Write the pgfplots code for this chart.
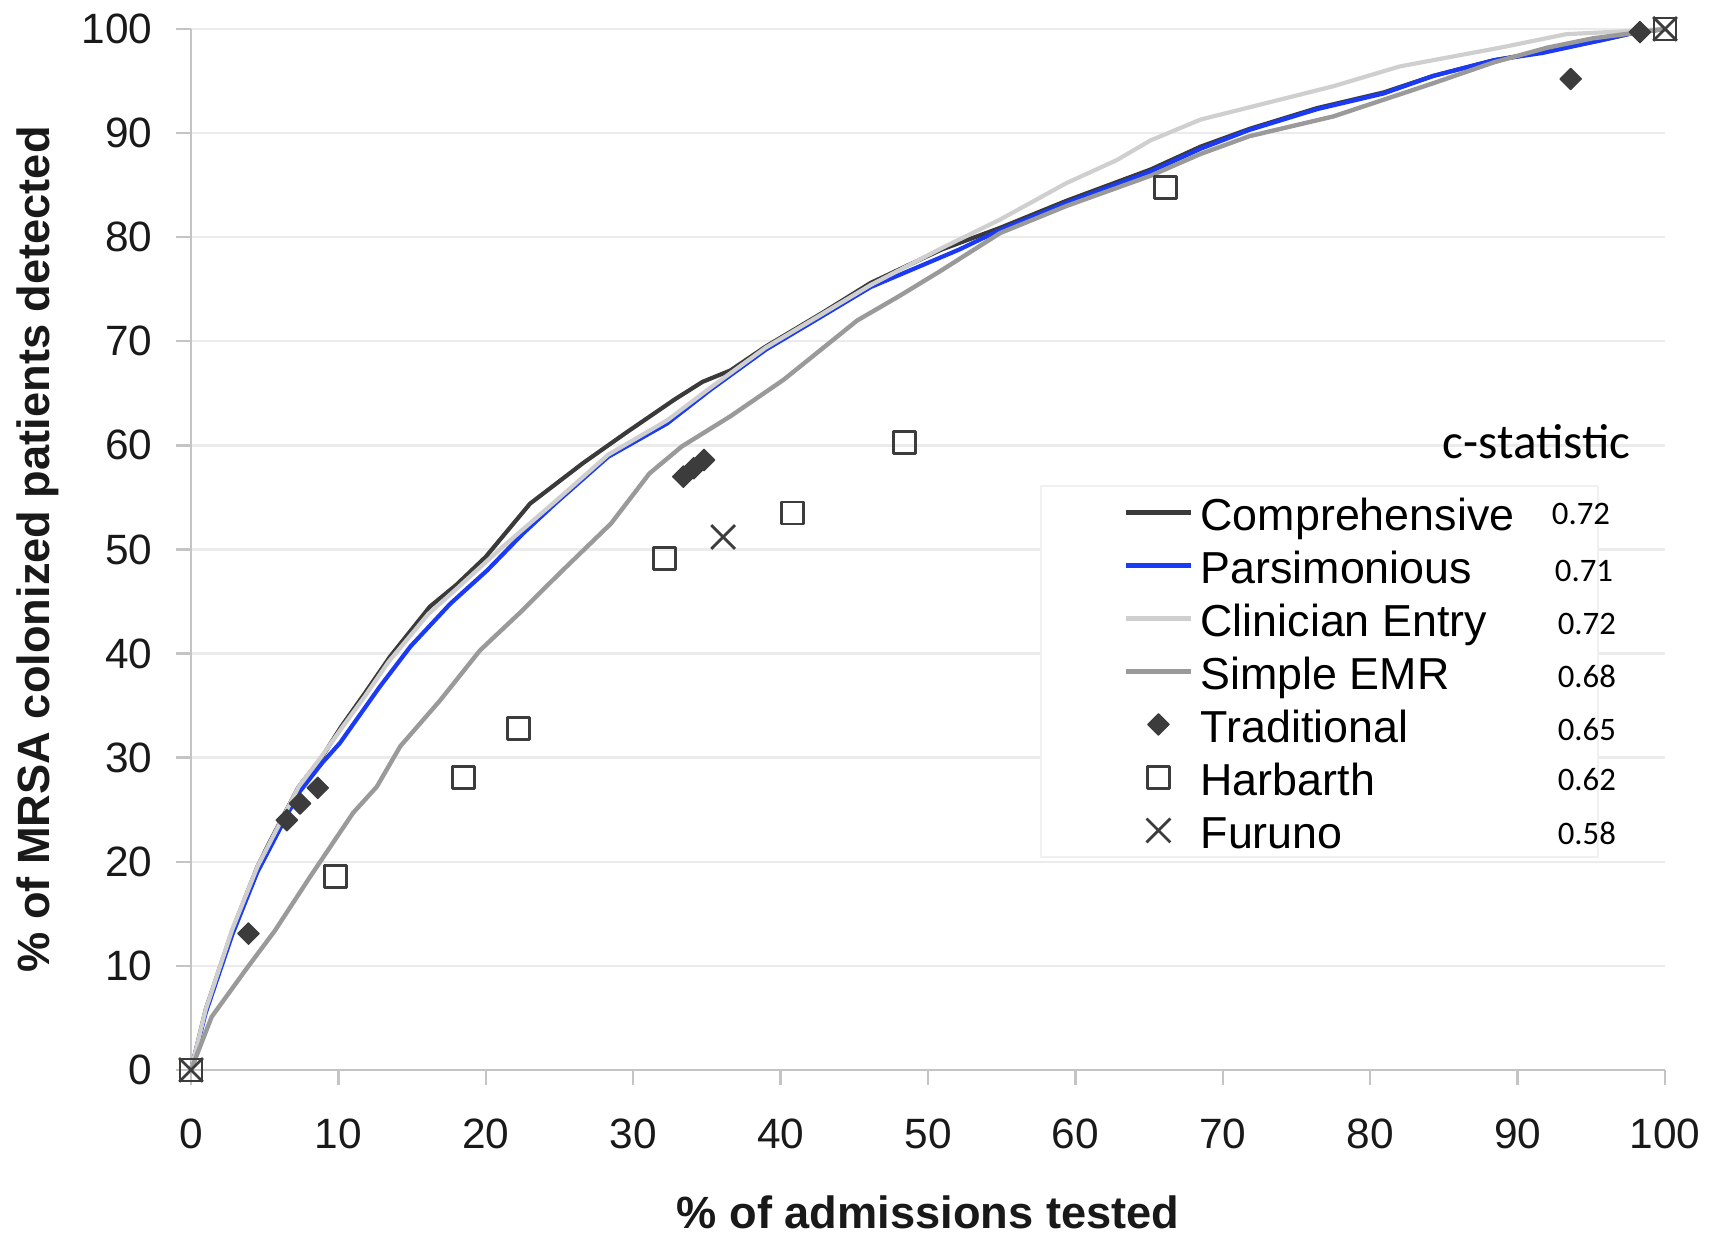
\documentclass[border=0pt]{standalone}
\usepackage{fontspec}
\setmainfont{Liberation Sans}
\newfontfamily\carlito{Carlito}
\usepackage{pgfplots}
\pgfplotsset{compat=1.18}

\definecolor{compcol}{HTML}{3A3A3A}
\definecolor{parscol}{HTML}{1A3AF5}
\definecolor{clincol}{HTML}{CFCFCF}
\definecolor{simpcol}{HTML}{9A9A9A}
\definecolor{markcol}{HTML}{3C3C3C}
\definecolor{axisgray}{HTML}{C4C4C4}
\definecolor{gridgray}{HTML}{EBEBEB}

\pgfplotsset{
  lineleg/.style={legend image code/.code={\path (0pt,0pt) (17.95pt,0pt); \draw[##1] (1.65pt,0pt) -- (17.95pt,0pt);}},
  markleg/.style={legend image code/.code={\path (0pt,0pt) (17.95pt,0pt); \draw[##1,mark repeat=2,mark phase=2] plot coordinates {(1.65pt,0pt) (9.8pt,0pt) (17.95pt,0pt)};}},
}

\begin{document}
\begin{tikzpicture}
\begin{axis}[
  at={(0pt,0pt)}, anchor=south west,
  scale only axis, width=368.5pt, height=260.25pt,
  xmin=0, xmax=100, ymin=0, ymax=100,
  clip=false,
  axis lines*=left,
  axis line style={draw=axisgray, line width=0.6pt},
  xtick={0,10,...,100}, ytick={0,10,...,100},
  tick align=outside, major tick length=3.75pt,
  tick style={draw=axisgray, line width=0.6pt},
  ymajorgrids, grid style={draw=gridgray, line width=0.6pt},
  /pgf/number format/assume math mode=true,
  tick label style={font=\fontsize{10.6}{12}\selectfont, text=black!90},
  xticklabel style={yshift=-5pt},
  yticklabel style={xshift=-2.4pt},
  xlabel={\% of admissions tested},
  ylabel={\% of MRSA colonized patients detected},
  label style={font=\bfseries\fontsize{11.3}{13}\selectfont, text=black!90},
  xlabel style={at={(rel axis cs:0.5,-0.1364)}, anchor=center},
  ylabel style={at={(rel axis cs:-0.1038,0.5)}, anchor=center},
  legend cell align=left,
  legend style={at={(rel axis cs:0.5760,0.5620)}, anchor=north west,
    draw=gray!12, fill=white, line width=0.5pt,
    inner xsep=19pt, inner ysep=0pt, row sep=0pt,
    font=\fontsize{11.2}{13}\selectfont,
    nodes={inner xsep=1.85pt, inner ysep=0.85pt, text height=10.4pt, text depth=1.15pt}},
  line join=round,
]
% Comprehensive
\addplot[compcol, line width=1.05pt, lineleg] coordinates {
(0,0) (1,5.8) (2.8,13.4) (4.5,19.5) (5.3,21.8) (7.3,27.2) (8.9,30.1) (10.2,33.0)
(11.8,36.2) (13.5,39.7) (16.2,44.5) (18,46.6) (20,49.3) (23,54.4) (26.6,58.3)
(29.5,61.2) (32.8,64.4) (34.7,66.1) (36.6,67.2) (39,69.5) (42.8,72.7) (46.1,75.6)
(50.9,78.8) (54.9,80.9) (59.4,83.5) (65.1,86.5) (68.5,88.7) (71.8,90.4) (76.4,92.4)
(80.9,93.9) (84.3,95.5) (88.4,97.0) (91.7,97.8) (95.6,98.9) (97.8,99.6) (100,100)};
\addlegendentry{Comprehensive}
% Parsimonious
\addplot[parscol, line width=1.05pt, lineleg] coordinates {
(0,0) (1,5.5) (2.8,13) (4.5,19) (7.3,26.6) (8.9,29.5) (10.1,31.4) (12.8,36.8)
(14.9,40.7) (17.6,44.8) (20.1,48.0) (22.5,51.5) (24.7,54.4) (28.3,58.9) (32.3,62.1)
(35.2,65.3) (39,69.2) (42.8,72.4) (46.1,75.2) (52.1,78.8) (54.9,80.7) (59.4,83.3)
(65.1,86.3) (68.5,88.5) (71.8,90.3) (76.4,92.3) (80.9,93.8) (84.3,95.5) (88.4,97.0)
(91.7,97.7) (95.6,98.9) (97.8,99.6) (100,100)};
\addlegendentry{Parsimonious}
% Clinician Entry
\addplot[clincol, line width=1.05pt, lineleg] coordinates {
(0,0) (1,5.8) (2.8,13.5) (4.5,19.5) (7.3,27.2) (8.9,30.2) (10.2,32.8) (11.8,35.9)
(13.4,39.2) (16.1,43.8) (18,46.2) (21.1,50.2) (24.7,54.6) (28.3,59.1) (32.3,62.4)
(35.2,65.5) (39,69.4) (42.8,72.6) (46.1,75.4) (51,79) (54.9,81.7) (59.4,85.2)
(62.8,87.4) (65.1,89.3) (68.5,91.3) (73,92.9) (77.5,94.5) (82,96.4) (88.8,98.2)
(93.3,99.5) (97.6,99.8) (100,100)};
\addlegendentry{Clinician Entry}
% Simple EMR
\addplot[simpcol, line width=1.1pt, lineleg] coordinates {
(0,0) (1.4,5.1) (3.7,9.6) (5.7,13.4) (8.1,18.6) (11,24.7) (12.6,27.2) (14.2,31.1)
(16.9,35.5) (19.6,40.3) (22.3,43.9) (25,47.7) (28.5,52.5) (31.1,57.3) (33.3,59.9)
(36.6,62.8) (40.2,66.3) (45.2,72.0) (48,74.3) (50.9,76.8) (54.9,80.4) (59.4,83.0)
(65.1,85.9) (68.5,88.0) (71.8,89.7) (77.5,91.6) (84.3,94.8) (88.4,96.8) (92,98.2)
(95.1,99.1) (100,100)};
\addlegendentry{Simple EMR}
% Traditional
\addplot[only marks, mark=square*, mark size=1.9pt, markleg,
  mark options={rotate=45, draw=markcol, fill=markcol, line width=0.3pt}] coordinates {
(3.9,13.1) (6.5,24.0) (7.4,25.6) (8.6,27.1) (33.4,57.0) (34.1,57.8) (34.8,58.6)
(93.6,95.2) (98.3,99.7)};
\addlegendentry{Traditional}
% Harbarth
\addplot[only marks, mark=square, mark size=2.75pt, markleg,
  mark options={draw=markcol, line width=0.7pt}] coordinates {
(0,0) (9.8,18.6) (18.5,28.1) (22.2,32.8) (32.1,49.1) (40.8,53.5) (48.4,60.3)
(66.1,84.8) (100,100)};
\addlegendentry{Harbarth}
% Furuno
\addplot[only marks, mark=x, mark size=4.2pt, markleg,
  mark options={draw=markcol, line width=0.7pt}] coordinates {
(0,0) (36.1,51.2) (100,100)};
\addlegendentry{Furuno}

\coordinate (cs) at (axis cs:91.3,58.7);
\coordinate (c1) at (axis cs:94.3,53.4);
\coordinate (c2) at (axis cs:94.5,47.9);
\coordinate (c3) at (axis cs:94.7,42.8);
\coordinate (c4) at (axis cs:94.7,37.8);
\coordinate (c5) at (axis cs:94.7,32.7);
\coordinate (c6) at (axis cs:94.7,27.9);
\coordinate (c7) at (axis cs:94.7,22.7);
\end{axis}
\begin{scope}[every node/.style={font=\carlito\fontsize{8.2}{10}\selectfont}]
\node[anchor=base, font=\carlito\fontsize{12.3}{14}\selectfont] at (cs) {c-statistic};
\node at (c1) {0.72};
\node at (c2) {0.71};
\node at (c3) {0.72};
\node at (c4) {0.68};
\node at (c5) {0.65};
\node at (c6) {0.62};
\node at (c7) {0.58};
\end{scope}
\pgfresetboundingbox
\useasboundingbox (-47.75pt,-41.75pt) rectangle (380.25pt,267.5pt);
\end{tikzpicture}
\end{document}
